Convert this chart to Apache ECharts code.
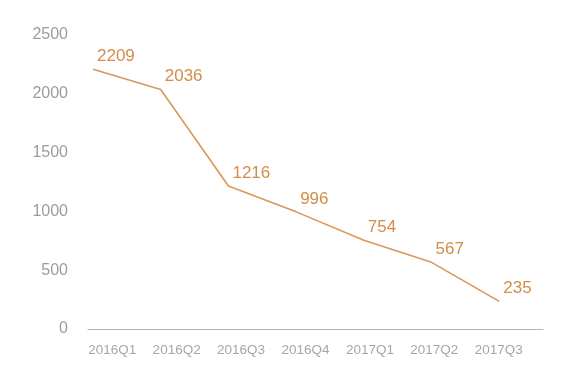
<!DOCTYPE html>
<html><head><meta charset="utf-8">
<script src="https://cdn.jsdelivr.net/npm/echarts@6/dist/echarts.min.js"></script>
<style>html,body{margin:0;padding:0;background:#fff}#c{width:563px;height:381px}</style>
</head><body><div id="c"></div>
<script>
const categories = ['2016Q1','2016Q2','2016Q3','2016Q4','2017Q1','2017Q2','2017Q3'];
const values = [2209, 2036, 1216, 996, 754, 567, 235];
const yTicks = [0, 500, 1000, 1500, 2000, 2500];

const chart = echarts.init(document.getElementById('c'), null, {renderer:'canvas'});
chart.setOption({
  animation: false,
  backgroundColor: '#fff',
  grid: [
    {left: 88, right: 20, top: 35, bottom: 52},
    {left: 80, right: 32, top: 35, bottom: 52}
  ],
  xAxis: [
    {type: 'value', gridIndex: 0, min: -0.074, max: 6.646,
     axisLine: {show: true, onZero: false, lineStyle: {color: '#b5b5b5', width: 1}},
     axisTick: {show: false}, axisLabel: {show: false}, splitLine: {show: false}},
    {type: 'category', gridIndex: 1, data: categories, boundaryGap: true,
     axisLine: {show: false}, axisTick: {show: false}, splitLine: {show: false},
     axisLabel: {interval: 0, hideOverlap: false, color: '#a6a6a6', fontSize: 13.5, margin: 14,
       fontFamily: 'Liberation Sans, Arial, sans-serif'}}
  ],
  yAxis: [
    {type: 'value', gridIndex: 0, min: yTicks[0], max: yTicks[yTicks.length-1], interval: 500,
     axisLine: {show: false}, axisTick: {show: false}, splitLine: {show: false},
     axisLabel: {color: '#9c9c9c', fontSize: 16, margin: 20, formatter: v => String(v),
       fontFamily: 'Liberation Sans, Arial, sans-serif'}},
    {type: 'value', gridIndex: 1, show: false}
  ],
  series: [{
    type: 'line',
    xAxisIndex: 0, yAxisIndex: 0,
    clip: false,
    data: categories.map((c, i) => [i, values[i]]),
    symbol: 'circle', symbolSize: 2, showSymbol: true,
    itemStyle: {color: 'rgba(217,151,91,0)'},
    lineStyle: {color: '#d9975b', width: 1.6},
    label: {show: true, position: 'right', distance: 3, offset: [0, -13],
      formatter: p => String(p.value[1]),
      color: '#d28d48', fontSize: 17, fontFamily: 'Liberation Sans, Arial, sans-serif'}
  }]
});
</script></body></html>
